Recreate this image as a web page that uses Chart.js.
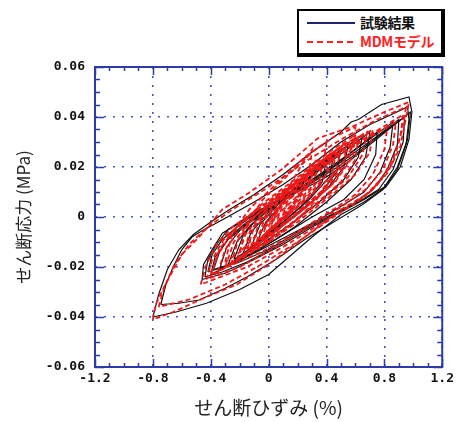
<!DOCTYPE html>
<html>
<head>
<meta charset="utf-8">
<script src="https://cdn.jsdelivr.net/npm/chart.js@4.4.0/dist/chart.umd.min.js"></script>
<style>
  body { margin: 0; background: #fff; }
  #wrap { position: relative; width: 458px; height: 422px; }
  #legend {
    position: absolute; left: 297px; top: 9px; width: 142px; height: 42px;
    border: 2px solid #000; border-right-width: 4px; border-bottom-width: 4px;
    background: #fff; font-family: "Noto Sans CJK JP", sans-serif; font-weight: bold;
  }
  .row { position: absolute; left: 0; height: 20px; width: 100%; }
  .sample { position: absolute; left: 8px; top: 9px; width: 48px; height: 2px; }
  .label { position: absolute; left: 61px; top: -1px; font-size: 14px; line-height: 20px; white-space: nowrap; letter-spacing: -0.3px; }
</style>
</head>
<body>
<div id="wrap">
  <canvas id="canvas" width="458" height="422"></canvas>
  <div id="legend">
    <div class="row" style="top:2px">
      <div class="sample" style="background:#1c2470"></div>
      <div class="label" style="color:#111">試験結果</div>
    </div>
    <div class="row" style="top:21px">
      <div class="sample" style="background:repeating-linear-gradient(90deg,#f22 0 6px,transparent 6px 10px)"></div>
      <div class="label" style="color:#f22">MDMモデル</div>
    </div>
  </div>
</div>
<script>
// axis ticks
var xTicks = [-1.2, -0.8, -0.4, 0, 0.4, 0.8, 1.2];
var xTickLabels = ['-1.2', '-0.8', '-0.4', '0', '0.4', '0.8', '1.2'];
var yTicks = [-0.06, -0.04, -0.02, 0, 0.02, 0.04, 0.06];
var yTickLabels = ['-0.06', '-0.04', '-0.02', '0', '0.02', '0.04', '0.06'];

// 試験結果 (test loops), [strain %, stress MPa]
var testA = [[-0.80,-0.040],[-0.76,-0.031],[-0.70,-0.021],[-0.62,-0.013],[-0.52,-0.007],[-0.40,-0.002],[-0.27,0.003],[-0.10,0.009],[0.10,0.017],[0.30,0.026],[0.50,0.034],[0.57,0.038],[0.62,0.039],[0.78,0.045],[0.97,0.048],
  [0.99,0.042],[0.97,0.031],[0.91,0.020],[0.81,0.012],[0.66,0.006],[0.50,0.001],[0.30,-0.008],[0.10,-0.018],[0.00,-0.023],[-0.20,-0.029],[-0.43,-0.0345],[-0.64,-0.038],[-0.80,-0.040]];
var testB = [[-0.745,-0.035],[-0.71,-0.027],[-0.66,-0.020],[-0.60,-0.013],[-0.53,-0.008],[-0.46,-0.0055],[-0.30,-0.0005],[-0.10,0.006],[0.10,0.013],[0.30,0.021],[0.50,0.030],[0.70,0.037],[0.85,0.041],[0.96,0.044],
  [0.97,0.039],[0.95,0.029],[0.89,0.019],[0.79,0.011],[0.65,0.005],[0.45,-0.002],[0.25,-0.009],[0.05,-0.017],[-0.15,-0.024],[-0.30,-0.0285],[-0.48,-0.0332],[-0.62,-0.0345],[-0.745,-0.035]];
var testC1 = [[-0.46,-0.025],[-0.45,-0.019],[-0.39,-0.013],[-0.32,-0.0065],[-0.16,-0.001],[0.02,0.004],[0.20,0.010],[0.40,0.016],[0.55,0.022],[0.70,0.029],[0.85,0.036],[0.98,0.042],
  [0.96,0.031],[0.89,0.020],[0.80,0.012],[0.66,0.007],[0.50,0.002],[0.30,-0.004],[0.10,-0.011],[-0.10,-0.017],[-0.30,-0.0225],[-0.46,-0.025]];
var testC2 = [[-0.44,-0.024],[-0.42,-0.017],[-0.36,-0.011],[-0.28,-0.005],[-0.12,0.001],[0.05,0.006],[0.25,0.012],[0.45,0.019],[0.60,0.025],[0.75,0.032],[0.94,0.040],
  [0.93,0.030],[0.86,0.019],[0.76,0.011],[0.62,0.006],[0.45,0.001],[0.25,-0.005],[0.05,-0.012],[-0.15,-0.018],[-0.32,-0.022],[-0.44,-0.024]];
var testC3 = [[-0.42,-0.022],[-0.39,-0.015],[-0.32,-0.009],[-0.22,-0.004],[-0.05,0.003],[0.15,0.009],[0.35,0.016],[0.55,0.024],[0.72,0.031],[0.90,0.039],
  [0.89,0.029],[0.82,0.019],[0.72,0.011],[0.58,0.005],[0.40,0.000],[0.20,-0.006],[0.00,-0.013],[-0.20,-0.018],[-0.42,-0.022]];
var testC4 = [[-0.38,-0.021],[-0.34,-0.014],[-0.27,-0.008],[-0.15,-0.002],[0.02,0.005],[0.22,0.012],[0.42,0.019],[0.60,0.027],[0.86,0.038],
  [0.84,0.028],[0.77,0.018],[0.66,0.010],[0.52,0.005],[0.35,-0.001],[0.15,-0.007],[-0.05,-0.013],[-0.22,-0.018],[-0.38,-0.021]];
var testD1 = [[-0.28,-0.019],[-0.22,-0.010],[-0.12,-0.003],[0.05,0.005],[0.25,0.014],[0.45,0.024],[0.65,0.033],
  [0.62,0.024],[0.52,0.015],[0.35,0.006],[0.15,-0.003],[-0.05,-0.011],[-0.28,-0.019]];
var testD2 = [[-0.18,-0.015],[-0.12,-0.006],[0.00,0.002],[0.18,0.011],[0.38,0.021],[0.55,0.029],
  [0.52,0.020],[0.40,0.011],[0.22,0.002],[0.02,-0.007],[-0.18,-0.015]];
var testD3 = [[-0.08,-0.010],[-0.02,-0.002],[0.12,0.007],[0.30,0.017],[0.45,0.025],
  [0.42,0.016],[0.28,0.007],[0.10,-0.002],[-0.08,-0.010]];
var testE1 = [[-0.34,-0.021],[-0.29,-0.012],[-0.18,-0.004],[0.00,0.004],[0.22,0.013],[0.45,0.023],[0.70,0.034],
  [0.67,0.024],[0.57,0.015],[0.40,0.006],[0.18,-0.004],[-0.06,-0.013],[-0.34,-0.021]];
var testE2 = [[-0.24,-0.017],[-0.18,-0.008],[-0.06,0.001],[0.12,0.010],[0.33,0.020],[0.50,0.027],
  [0.47,0.018],[0.34,0.008],[0.14,-0.001],[-0.06,-0.010],[-0.24,-0.017]];
var testE3 = [[-0.12,-0.012],[-0.06,-0.003],[0.08,0.006],[0.26,0.016],[0.40,0.023],
  [0.37,0.014],[0.24,0.005],[0.06,-0.004],[-0.12,-0.012]];
var testE4 = [[-0.40,-0.023],[-0.37,-0.016],[-0.28,-0.009],[-0.15,-0.003],[0.05,0.005],[0.30,0.015],[0.55,0.025],[0.75,0.034],
  [0.74,0.025],[0.66,0.015],[0.52,0.007],[0.30,0.000],[0.05,-0.009],[-0.20,-0.017],[-0.40,-0.023]];

// MDMモデル (model loops)
var modelA = [[-0.80,-0.041],[-0.78,-0.035],[-0.71,-0.0265],[-0.60,-0.015],[-0.48,-0.008],[-0.32,0.003],[-0.14,0.0095],[0.09,0.019],[0.34,0.0315],[0.57,0.036],[0.80,0.042],[0.97,0.046],
  [0.95,0.040],[0.91,0.028],[0.82,0.0175],[0.69,0.0095],[0.50,0.003],[0.25,-0.008],[0.00,-0.019],[-0.22,-0.027],[-0.43,-0.032],[-0.66,-0.038],[-0.80,-0.041]];
var modelB = [[-0.76,-0.036],[-0.72,-0.028],[-0.65,-0.019],[-0.55,-0.011],[-0.42,-0.004],[-0.25,0.003],[0.00,0.012],[0.25,0.022],[0.50,0.031],[0.75,0.039],[0.95,0.044],
  [0.93,0.037],[0.88,0.026],[0.79,0.016],[0.66,0.008],[0.45,0.000],[0.20,-0.010],[-0.05,-0.019],[-0.30,-0.027],[-0.55,-0.033],[-0.76,-0.036]];
var modelC1 = [[-0.47,-0.027],[-0.43,-0.019],[-0.36,-0.011],[-0.25,-0.004],[-0.08,0.003],[0.15,0.012],[0.40,0.021],[0.65,0.031],[0.93,0.041],
  [0.91,0.032],[0.85,0.021],[0.74,0.012],[0.58,0.005],[0.35,-0.003],[0.10,-0.012],[-0.15,-0.020],[-0.47,-0.027]];
var modelC2 = [[-0.43,-0.025],[-0.39,-0.017],[-0.31,-0.009],[-0.18,-0.002],[0.00,0.006],[0.22,0.015],[0.46,0.024],[0.70,0.032],[0.88,0.038],
  [0.86,0.029],[0.79,0.019],[0.67,0.011],[0.50,0.004],[0.28,-0.004],[0.05,-0.012],[-0.20,-0.020],[-0.43,-0.025]];
var modelC3 = [[-0.40,-0.023],[-0.35,-0.015],[-0.26,-0.007],[-0.12,0.001],[0.06,0.009],[0.28,0.018],[0.52,0.027],[0.82,0.036],
  [0.80,0.027],[0.72,0.017],[0.60,0.009],[0.42,0.002],[0.20,-0.006],[-0.05,-0.014],[-0.40,-0.023]];
var modelD1 = [[-0.30,-0.020],[-0.24,-0.010],[-0.12,-0.001],[0.05,0.008],[0.28,0.019],[0.50,0.028],[0.68,0.034],
  [0.65,0.025],[0.55,0.016],[0.38,0.007],[0.15,-0.003],[-0.08,-0.012],[-0.30,-0.020]];
var modelD2 = [[-0.22,-0.017],[-0.16,-0.007],[-0.04,0.002],[0.14,0.011],[0.34,0.021],[0.58,0.031],
  [0.55,0.022],[0.44,0.013],[0.26,0.004],[0.04,-0.006],[-0.22,-0.017]];
var modelD3 = [[-0.15,-0.013],[-0.10,-0.004],[0.03,0.005],[0.20,0.014],[0.38,0.023],[0.50,0.028],
  [0.47,0.019],[0.36,0.010],[0.18,0.001],[0.00,-0.007],[-0.15,-0.013]];
var modelD4 = [[-0.08,-0.010],[-0.03,-0.001],[0.10,0.008],[0.26,0.017],[0.42,0.025],
  [0.40,0.017],[0.28,0.009],[0.12,0.000],[-0.08,-0.010]];
var modelD5 = [[-0.02,-0.007],[0.04,0.002],[0.18,0.011],[0.34,0.021],
  [0.31,0.013],[0.17,0.004],[-0.02,-0.007]];
var modelD6 = [[0.04,-0.004],[0.10,0.005],[0.22,0.013],[0.28,0.018],[0.24,0.010],[0.12,0.002],[0.04,-0.004]];
var modelE1 = [[-0.35,-0.022],[-0.30,-0.013],[-0.20,-0.005],[-0.02,0.004],[0.20,0.014],[0.45,0.025],[0.72,0.035],
  [0.70,0.026],[0.60,0.017],[0.42,0.008],[0.20,-0.002],[-0.05,-0.012],[-0.35,-0.022]];
var modelE2 = [[-0.26,-0.019],[-0.21,-0.009],[-0.10,0.000],[0.08,0.009],[0.30,0.019],[0.52,0.029],[0.62,0.032],
  [0.60,0.023],[0.50,0.014],[0.32,0.005],[0.10,-0.005],[-0.10,-0.013],[-0.26,-0.019]];
var modelE3 = [[-0.18,-0.016],[-0.13,-0.006],[-0.02,0.003],[0.16,0.012],[0.36,0.022],[0.54,0.030],
  [0.52,0.021],[0.40,0.012],[0.22,0.003],[0.02,-0.007],[-0.18,-0.016]];
var modelE4 = [[-0.12,-0.012],[-0.07,-0.003],[0.06,0.006],[0.24,0.016],[0.44,0.026],
  [0.41,0.018],[0.30,0.009],[0.12,0.000],[-0.12,-0.012]];
var modelE5 = [[-0.05,-0.009],[0.00,0.000],[0.14,0.009],[0.30,0.019],[0.38,0.023],
  [0.35,0.015],[0.22,0.006],[0.05,-0.003],[-0.05,-0.009]];
var modelE6 = [[0.00,-0.006],[0.06,0.003],[0.18,0.012],[0.32,0.022],[0.29,0.014],[0.16,0.005],[0.00,-0.006]];
var modelE7 = [[-0.40,-0.024],[-0.34,-0.013],[-0.24,-0.005],[-0.05,0.005],[0.18,0.015],[0.42,0.026],[0.60,0.033],
  [0.58,0.024],[0.46,0.014],[0.26,0.004],[0.02,-0.007],[-0.22,-0.017],[-0.40,-0.024]];
var modelE8 = [[0.08,-0.002],[0.14,0.007],[0.24,0.014],[0.30,0.019],[0.27,0.012],[0.16,0.004],[0.08,-0.002]];
var modelE9 = [[-0.30,-0.018],[-0.25,-0.006],[-0.12,0.004],[0.05,0.013],[0.25,0.024],[0.45,0.032],[0.60,0.036],
  [0.58,0.028],[0.48,0.019],[0.30,0.009],[0.08,-0.002],[-0.12,-0.011],[-0.30,-0.018]];
var modelF1 = [[-0.20,-0.014],[-0.15,-0.003],[-0.04,0.007],[0.12,0.016],[0.30,0.026],[0.40,0.030],
  [0.38,0.022],[0.28,0.013],[0.12,0.004],[-0.04,-0.005],[-0.20,-0.014]];
var modelF2 = [[-0.10,-0.013],[-0.06,-0.006],[0.05,0.002],[0.20,0.010],[0.34,0.018],[0.46,0.024],
  [0.43,0.015],[0.32,0.006],[0.16,-0.003],[0.00,-0.010],[-0.10,-0.013]];
var modelF3 = [[-0.02,-0.011],[0.03,-0.002],[0.12,0.010],[0.22,0.020],[0.30,0.027],
  [0.28,0.018],[0.20,0.008],[0.10,-0.003],[-0.02,-0.011]];

var testLoops = [testA, testB, testC1, testC2, testC3, testC4, testD1, testD2, testD3, testE1, testE2, testE3, testE4];
var modelLoops = [modelA, modelB, modelC1, modelC2, modelC3, modelD1, modelD2, modelD3, modelD4, modelD5, modelD6,
  modelE1, modelE2, modelE3, modelE4, modelE5, modelE6, modelE7, modelE8, modelE9, modelF1, modelF2, modelF3];

var axisBlue = '#2b3ca8';

function toPoints(loop) {
  return loop.map(function(p) { return { x: p[0], y: p[1] }; });
}

var datasets = [];
testLoops.forEach(function(loop) {
  datasets.push({
    label: '試験結果',
    data: toPoints(loop),
    showLine: true,
    borderColor: '#111',
    borderWidth: 1.2,
    pointRadius: 0,
    tension: 0,
    order: 2
  });
});
modelLoops.forEach(function(loop) {
  datasets.push({
    label: 'MDMモデル',
    data: toPoints(loop),
    showLine: true,
    borderColor: '#f01818',
    borderWidth: 1.8,
    borderDash: [5, 3],
    pointRadius: 0,
    tension: 0,
    order: 1
  });
});

// inward major / minor ticks on all four sides
var frameTicks = {
  id: 'frameTicks',
  afterDatasetsDraw: function(chart) {
    var ctx = chart.ctx, a = chart.chartArea;
    var xs = chart.scales.x, ys = chart.scales.y;
    ctx.save();
    ctx.strokeStyle = axisBlue;
    ctx.lineWidth = 1.5;
    ctx.beginPath();
    for (var i = 0; i <= 24; i++) {
      var px = Math.round(xs.getPixelForValue(-1.2 + i * 0.1)) + 0.5;
      var len = (i % 4 === 0) ? 8 : 4;
      ctx.moveTo(px, a.bottom); ctx.lineTo(px, a.bottom - len);
      ctx.moveTo(px, a.top); ctx.lineTo(px, a.top + len);
    }
    for (var j = 0; j <= 24; j++) {
      var py = Math.round(ys.getPixelForValue(-0.06 + j * 0.005)) + 0.5;
      var len2 = (j % 4 === 0) ? 9 : 5;
      ctx.moveTo(a.left, py); ctx.lineTo(a.left + len2, py);
      ctx.moveTo(a.right, py); ctx.lineTo(a.right - len2, py);
    }
    ctx.stroke();
    ctx.lineWidth = 2;
    ctx.strokeRect(a.left, a.top, a.right - a.left, a.bottom - a.top);
    ctx.restore();
  }
};

var tickFont = { family: 'DejaVu Sans Mono', size: 13, weight: 'bold' };
var titleFont = { family: 'Noto Sans CJK JP', size: 17, weight: 'normal' };

new Chart(document.getElementById('canvas'), {
  type: 'scatter',
  data: { datasets: datasets },
  options: {
    responsive: false,
    animation: false,
    devicePixelRatio: 1,
    layout: { padding: { top: 67, right: 13, left: 0, bottom: 0 } },
    plugins: { legend: { display: false }, tooltip: { enabled: false } },
    scales: {
      x: {
        min: -1.2, max: 1.2,
        afterBuildTicks: function(scale) {
          scale.ticks = xTicks.map(function(v) { return { value: v }; });
        },
        afterFit: function(scale) { scale.height = 55; },
        ticks: {
          color: '#111', font: tickFont, padding: 4, maxRotation: 0, autoSkip: false,
          callback: function(v, i) { return xTickLabels[i]; }
        },
        grid: { color: '#4656c8', lineWidth: 1.6, drawTicks: false },
        border: { display: false, dash: [2, 7] },
        title: { display: true, text: 'せん断ひずみ (%)', color: '#222', font: { family: 'Noto Sans CJK JP', size: 19 }, padding: { top: 0, bottom: 3 } }
      },
      y: {
        min: -0.06, max: 0.06,
        afterBuildTicks: function(scale) {
          scale.ticks = yTicks.map(function(v) { return { value: v }; });
        },
        afterFit: function(scale) { scale.width = 95; },
        ticks: {
          color: '#111', font: tickFont, padding: 10, autoSkip: false,
          callback: function(v, i) { return yTickLabels[i]; }
        },
        grid: { color: '#4656c8', lineWidth: 1.6, drawTicks: false },
        border: { display: false, dash: [2, 7] },
        title: { display: true, text: 'せん断応力 (MPa)', color: '#222', font: titleFont, padding: { top: 13, bottom: 0 } }
      }
    }
  },
  plugins: [frameTicks]
});
</script>
</body>
</html>
